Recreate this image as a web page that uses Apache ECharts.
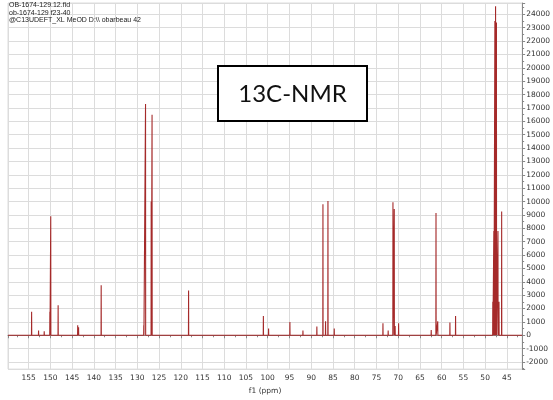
<!DOCTYPE html>
<html>
<head>
<meta charset="utf-8">
<script src="https://cdn.jsdelivr.net/npm/echarts@6/dist/echarts.min.js"></script>
<style>html,body{margin:0;padding:0;background:#fff}#c{width:553px;height:400px}</style>
</head>
<body>
<div id="c"></div>
<script>
// Peak positions (ppm) and heights
var peakPpm = [154.3, 152.7, 151.4, 150.1, 149.9, 148.2, 143.7, 143.5, 138.3,
  128.5, 128.1, 126.8, 126.6, 118.2, 101.0, 99.8, 94.9, 91.9, 88.7, 87.3, 86.7, 86.15, 84.7,
  73.5, 72.3, 71.2, 70.9, 70.7, 69.9, 62.4, 61.3, 60.9, 58.1, 56.8,
  48.24, 48.0, 47.76, 47.6, 47.4, 47.05, 46.81, 46.2];
var peakHeight = [1750, 350, 300, 1750, 8900, 2250, 750, 600, 3750,
  750, 17300, 10000, 16500, 3350, 1450, 500, 1000, 350, 650, 9800, 1050, 10050, 500,
  900, 350, 9950, 9450, 700, 900, 400, 9150, 1050, 950, 1450,
  2500, 7800, 23500, 24600, 23400, 7800, 2500, 9250];
var xRange = [41.49, 159.73];
var yRange = [-2530, 24850];
var headerLines = ["OB-1674-129.12.fid", "ob-1674-129 f23-40", "@C13UDEFT_XL MeOD D:\\\\ obarbeau 42"];
var boxLabel = "13C-NMR";
var xAxisName = "f1 (ppm)";

var halfWidth = 0.03;
var order = peakPpm.map(function (p, i) { return i; }).sort(function (a, b) { return peakPpm[b] - peakPpm[a]; });
var spectrum = [[xRange[1], 0]];
order.forEach(function (i) {
  spectrum.push([peakPpm[i] + halfWidth, 0]);
  spectrum.push([peakPpm[i], peakHeight[i]]);
  spectrum.push([peakPpm[i] - halfWidth, 0]);
});
spectrum.push([xRange[0], 0]);

var chart = echarts.init(document.getElementById('c'), null, {renderer: 'canvas'});
var gridColor = '#dcdcdc';
var lblFont = {fontFamily: 'DejaVu Sans', fontSize: 7.5, color: '#333'};
var hdrStyle = function (t) {
  return {text: t, font: '7px "Liberation Sans"', fill: '#222', verticalAlign: 'top', align: 'left'};
};
chart.setOption({
  animation: false,
  backgroundColor: '#fff',
  grid: {left: 8, right: 20, top: 3, bottom: 22, show: true, borderColor: gridColor, borderWidth: 1},
  xAxis: {
    type: 'value', inverse: true, min: xRange[0], max: xRange[1], splitNumber: 24,
    name: xAxisName, nameLocation: 'middle', nameGap: 15,
    nameTextStyle: {fontFamily: 'DejaVu Sans', fontSize: 7.5, color: '#333'},
    axisLine: {show: true, lineStyle: {color: '#888'}},
    axisTick: {show: true, length: 3, lineStyle: {color: '#888'}},
    minorTick: {show: true, splitNumber: 2, length: 2, lineStyle: {color: '#888'}},
    axisLabel: Object.assign({margin: 5, showMinLabel: false, showMaxLabel: false,
      formatter: function (v) { return (Math.abs(v % 5) < 1e-6) ? String(v) : ''; }}, lblFont),
    splitLine: {show: true, lineStyle: {color: gridColor, width: 1}}
  },
  yAxis: {
    type: 'value', position: 'right', min: yRange[0], max: yRange[1], splitNumber: 27,
    axisLine: {show: true, lineStyle: {color: '#888'}},
    axisTick: {show: true, length: 3, lineStyle: {color: '#888'}},
    minorTick: {show: true, splitNumber: 2, length: 2, lineStyle: {color: '#888'}},
    axisLabel: Object.assign({margin: 4, showMinLabel: false, showMaxLabel: false,
      formatter: function (v) { return (Math.abs(v % 1000) < 1e-6) ? String(v) : ''; }}, lblFont),
    splitLine: {show: true, lineStyle: {color: gridColor, width: 1}}
  },
  series: [{
    type: 'line', data: spectrum, showSymbol: false, symbol: 'none', clip: true,
    lineStyle: {color: '#a52a2a', width: 1.1}
  }],
  graphic: [
    {type: 'text', x: 9, y: 2, z: 100, style: hdrStyle(headerLines[0])},
    {type: 'text', x: 9, y: 9.5, z: 100, style: hdrStyle(headerLines[1])},
    {type: 'text', x: 9, y: 17, z: 100, style: hdrStyle(headerLines[2])},
    {type: 'rect', shape: {x: 218, y: 66, width: 149, height: 55},
      style: {fill: '#fff', stroke: '#000', lineWidth: 2}, z: 100},
    {type: 'text', x: 292.5, y: 94, z: 101,
      style: {text: boxLabel, font: '24px Lato', fill: '#111', align: 'center', verticalAlign: 'middle'}}
  ]
});
</script>
</body>
</html>
